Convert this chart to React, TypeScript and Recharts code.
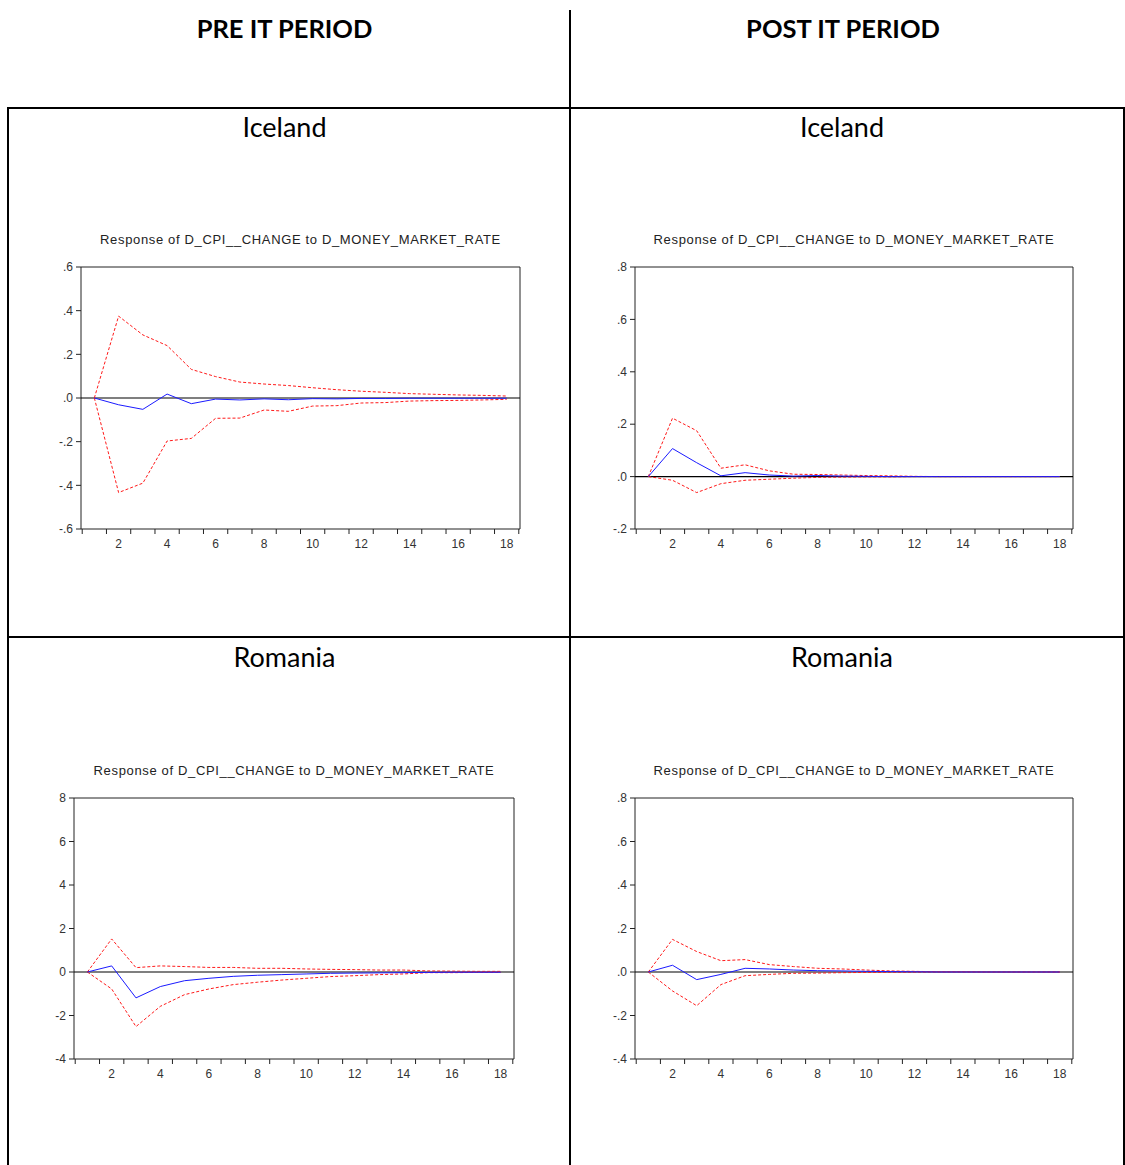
import React from "react";
import { LineChart, Line, XAxis, YAxis, ReferenceLine, ReferenceArea } from "recharts";

const PERIODS = [1, 2, 3, 4, 5, 6, 7, 8, 9, 10, 11, 12, 13, 14, 15, 16, 17, 18];
const X_TICK_LABELS = [2, 4, 6, 8, 10, 12, 14, 16, 18];
const X_TICK_MARKS = [0.5, 1.5, 2.5, 3.5, 4.5, 5.5, 6.5, 7.5, 8.5, 9.5, 10.5, 11.5, 12.5, 13.5, 14.5, 15.5, 16.5, 17.5, 18.5];

const CHART_TITLE = "Response of D_CPI__CHANGE to D_MONEY_MARKET_RATE";

// Pre IT, Iceland
const preIceResp = [0, -0.031, -0.052, 0.018, -0.026, -0.005, -0.009, -0.004, -0.008, -0.003, -0.004, -0.002, -0.002, -0.001, -0.001, -0.001, -0.001, -0.001];
const preIceUpper = [0, 0.375, 0.289, 0.24, 0.131, 0.098, 0.073, 0.064, 0.057, 0.047, 0.038, 0.031, 0.026, 0.02, 0.017, 0.014, 0.012, 0.009];
const preIceLower = [0, -0.433, -0.39, -0.197, -0.185, -0.093, -0.092, -0.055, -0.061, -0.037, -0.035, -0.023, -0.021, -0.014, -0.012, -0.011, -0.009, -0.006];
const preIceTicks = [-0.6, -0.4, -0.2, 0, 0.2, 0.4, 0.6];

// Post IT, Iceland
const postIceResp = [0, 0.107, 0.053, 0.003, 0.015, 0.006, 0.002, 0.004, 0.002, 0.001, 0, 0, 0, 0, 0, 0, 0, 0];
const postIceUpper = [0, 0.223, 0.175, 0.032, 0.045, 0.022, 0.009, 0.008, 0.006, 0.004, 0.003, 0.001, 0, 0, 0, 0, 0, 0];
const postIceLower = [0, -0.014, -0.061, -0.027, -0.014, -0.01, -0.006, -0.003, -0.002, -0.001, -0.001, 0, 0, 0, 0, 0, 0, 0];
const postIceTicks = [-0.2, 0, 0.2, 0.4, 0.6, 0.8];

// Pre IT, Romania
const preRomResp = [0, 0.28, -1.19, -0.67, -0.4, -0.29, -0.2, -0.15, -0.12, -0.09, -0.06, -0.05, -0.04, -0.03, -0.02, -0.01, -0.01, -0.01];
const preRomUpper = [0, 1.52, 0.2, 0.28, 0.25, 0.21, 0.21, 0.17, 0.17, 0.14, 0.12, 0.11, 0.09, 0.09, 0.05, 0.04, 0.03, 0.03];
const preRomLower = [0, -0.78, -2.51, -1.58, -1.04, -0.78, -0.58, -0.47, -0.37, -0.29, -0.21, -0.17, -0.12, -0.09, -0.03, -0.03, -0.02, -0.02];
const preRomTicks = [-4, -2, 0, 2, 4, 6, 8];

// Post IT, Romania
const postRomResp = [0, 0.031, -0.035, -0.011, 0.017, 0.014, 0.009, 0.006, 0.005, 0.003, 0.002, 0.001, 0, 0, 0, 0, 0, 0];
const postRomUpper = [0, 0.15, 0.094, 0.052, 0.057, 0.034, 0.025, 0.017, 0.014, 0.009, 0.005, 0.003, 0.001, 0.001, 0, 0, 0, 0];
const postRomLower = [0, -0.087, -0.155, -0.058, -0.017, -0.011, -0.006, -0.005, -0.003, -0.002, -0.001, -0.001, 0, 0, 0, 0, 0, 0];
const postRomTicks = [-0.4, -0.2, 0, 0.2, 0.4, 0.6, 0.8];

const CHART_FONT = "'Liberation Sans', Arial, sans-serif";
const TABLE_FONT = "Lato, 'Open Sans', sans-serif";

const fmtDecimal = (v: number) => v.toFixed(1).replace(/^(-?)0\./, "$1.");
const fmtInt = (v: number) => String(v);

const XTick = (props: any) => {
  const { x, y, payload } = props;
  const v = payload.value;
  if (Number.isInteger(v)) {
    return (
      <text x={x} y={y + 19} textAnchor="middle" fontSize={12} fill="#333" fontFamily={CHART_FONT}>
        {v}
      </text>
    );
  }
  return <line x1={x} x2={x} y1={y} y2={y + 5} stroke="#222" />;
};

interface IrfProps {
  left: number; top: number; plotW: number; plotH: number;
  resp: number[]; upper: number[]; lower: number[];
  yTicks: number[]; fmt: (v: number) => string;
}

function IrfChart({ left, top, plotW, plotH, resp, upper, lower, yTicks, fmt }: IrfProps) {
  const data = PERIODS.map((p, i) => ({ period: p, resp: resp[i], upper: upper[i], lower: lower[i] }));
  const yMin = yTicks[0];
  const yMax = yTicks[yTicks.length - 1];
  const axisW = 40;
  const mTop = 12;
  const xTicks = [...X_TICK_MARKS, ...X_TICK_LABELS].sort((a, b) => a - b);
  return (
    <div style={{ position: "absolute", left: left - axisW, top: top - 35 }}>
      <div style={{
        position: "absolute", left: axisW, width: plotW, top: 0, textAlign: "center",
        fontFamily: CHART_FONT, fontSize: 13, letterSpacing: 0.65, color: "#222", lineHeight: "16px",
      }}>
        {CHART_TITLE}
      </div>
      <div style={{ position: "absolute", left: 0, top: 35 - mTop }}>
        <LineChart width={axisW + plotW + 5} height={mTop + plotH + 30} data={data}
          margin={{ top: mTop, right: 5, left: 0, bottom: 0 }}>
          <XAxis dataKey="period" type="number" domain={[0.45, 18.55]} allowDataOverflow
            ticks={xTicks} interval={0} tick={<XTick />} tickLine={false} tickSize={0} tickMargin={0}
            axisLine={false} height={30} />
          <YAxis type="number" domain={[yMin, yMax]} ticks={yTicks} interval={0} width={axisW}
            tickFormatter={fmt} axisLine={false} tickSize={5} tickMargin={3}
            tickLine={{ stroke: "#222" }}
            tick={{ fontSize: 12, fill: "#333", fontFamily: CHART_FONT }} />
          <ReferenceArea x1={0.45} x2={18.55} y1={yMin} y2={yMax} fill="none" stroke="#222" strokeWidth={1} />
          <ReferenceLine y={0} stroke="#000" strokeWidth={1.2} />
          <Line dataKey="upper" stroke="#ff1a1a" strokeWidth={1} strokeDasharray="3 2" dot={false} isAnimationActive={false} />
          <Line dataKey="lower" stroke="#ff1a1a" strokeWidth={1} strokeDasharray="3 2" dot={false} isAnimationActive={false} />
          <Line dataKey="resp" stroke="#1a1aff" strokeWidth={1} dot={false} isAnimationActive={false} />
        </LineChart>
      </div>
    </div>
  );
}

const hdr: React.CSSProperties = {
  position: "absolute", fontFamily: TABLE_FONT, fontWeight: 700, fontSize: 25.5,
  color: "#000", textAlign: "center", lineHeight: "30px",
};
const cell: React.CSSProperties = {
  position: "absolute", fontFamily: TABLE_FONT, fontSize: 27,
  color: "#000", textAlign: "center", lineHeight: "32px",
};
const rule = (l: number, t: number, w: number, h: number): React.CSSProperties => ({
  position: "absolute", left: l, top: t, width: w, height: h, background: "#000",
});

export default function App() {
  return (
    <div style={{ position: "absolute", left: 0, top: 0, width: 1125, height: 1165, background: "#fff", overflow: "hidden" }}>
      {/* table rules */}
      <div style={rule(569, 10, 2, 1155)} />
      <div style={rule(7, 107, 1118, 2)} />
      <div style={rule(7, 107, 2, 1058)} />
      <div style={rule(1123, 107, 2, 1058)} />
      <div style={rule(7, 636, 1118, 2)} />

      <div style={{ ...hdr, left: 0, width: 569, top: 13 }}>PRE IT PERIOD</div>
      <div style={{ ...hdr, left: 571, width: 544, top: 13 }}>POST IT PERIOD</div>

      <div style={{ ...cell, left: 0, width: 569, top: 111 }}>Iceland</div>
      <div style={{ ...cell, left: 571, width: 542, top: 111 }}>Iceland</div>
      <div style={{ ...cell, left: 0, width: 569, top: 641 }}>Romania</div>
      <div style={{ ...cell, left: 571, width: 542, top: 641 }}>Romania</div>

      <IrfChart left={81} top={267} plotW={439} plotH={262}
        resp={preIceResp} upper={preIceUpper} lower={preIceLower} yTicks={preIceTicks} fmt={fmtDecimal} />
      <IrfChart left={635} top={267} plotW={438} plotH={262}
        resp={postIceResp} upper={postIceUpper} lower={postIceLower} yTicks={postIceTicks} fmt={fmtDecimal} />
      <IrfChart left={74} top={798} plotW={440} plotH={261}
        resp={preRomResp} upper={preRomUpper} lower={preRomLower} yTicks={preRomTicks} fmt={fmtInt} />
      <IrfChart left={635} top={798} plotW={438} plotH={261}
        resp={postRomResp} upper={postRomUpper} lower={postRomLower} yTicks={postRomTicks} fmt={fmtDecimal} />
    </div>
  );
}
